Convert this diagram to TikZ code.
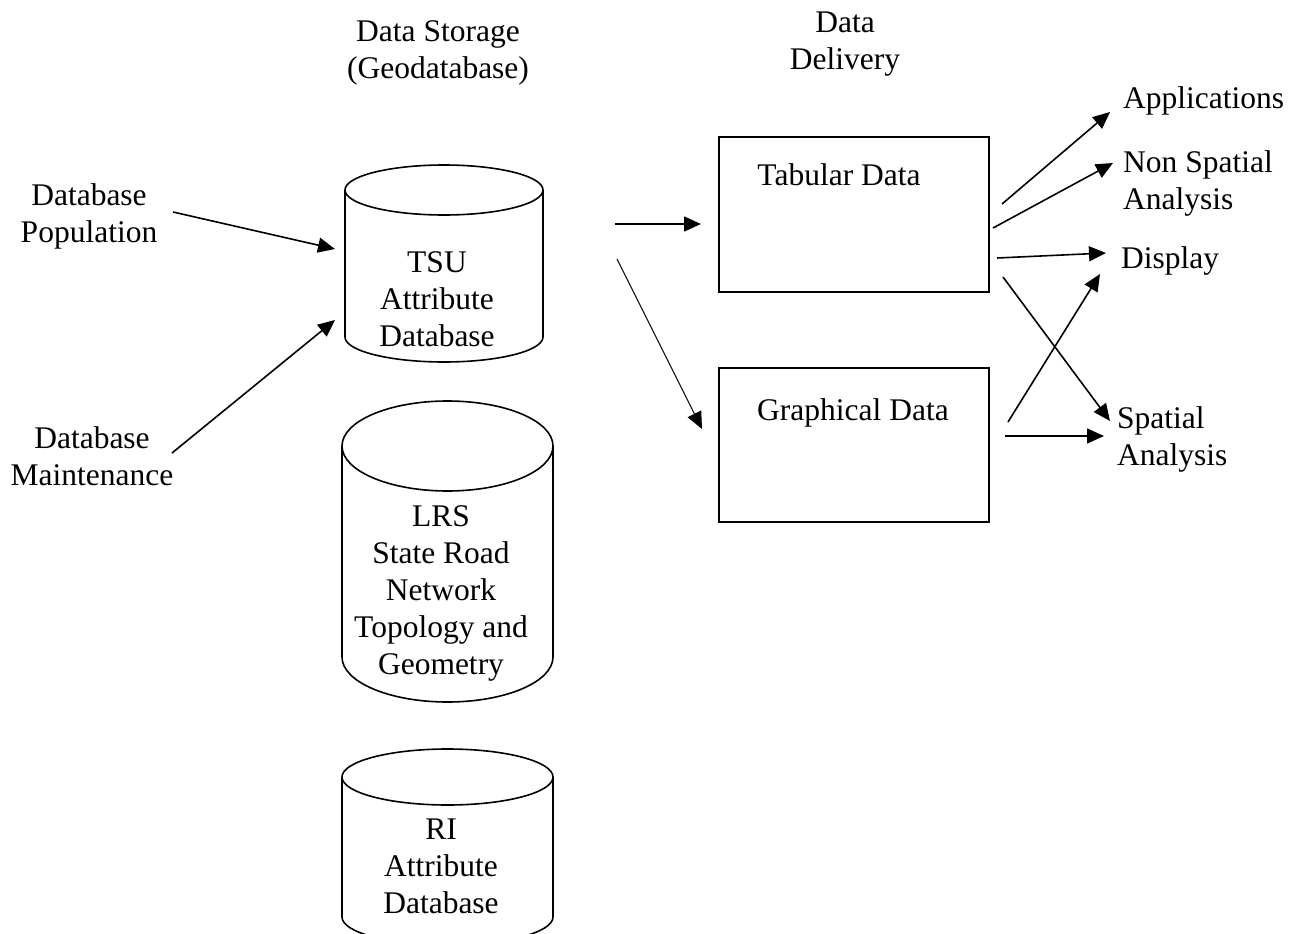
\documentclass[tikz,border=0pt]{standalone}
\usepackage{fontspec}
\setmainfont{Liberation Serif}
\usetikzlibrary{arrows.meta}
% stacked lines, first baseline on the node's base
\newcommand{\clines}[1]{\begin{tabular}[t]{@{}c@{}}#1\end{tabular}}
\newcommand{\llines}[1]{\begin{tabular}[t]{@{}l@{}}#1\end{tabular}}
\begin{document}
\begin{tikzpicture}[x=1pt,y=-1pt,
  txt/.style={inner sep=0pt, anchor=base, font=\fontsize{31.5}{37}\selectfont},
  ltxt/.style={txt, anchor=base west},
  shapeline/.style={line width=1.6pt},
  arr/.style={line width=1.6pt, -{Triangle[length=17pt,width=15pt]}},
  thinarr/.style={arr, line width=1.1pt},
  box/.style={draw, shapeline, minimum width=270pt, minimum height=155pt, inner sep=0pt}]
\clip (0,0) rectangle (1294,934);

% column headings
\node[txt] (hdrS) at (438,42) {\clines{Data Storage\\(Geodatabase)}};
\node[txt] (hdrD) at (845,33) {\clines{Data\\Delivery}};

% database cylinders
\draw[shapeline] (444,190) ellipse [x radius=99pt, y radius=25pt];
\draw[shapeline] (345,190) -- (345,337) arc [start angle=180, end angle=360, x radius=99pt, y radius=25pt] -- (543,190);
\draw[shapeline] (447.5,446) ellipse [x radius=105.5pt, y radius=45pt];
\draw[shapeline] (342,446) -- (342,657) arc [start angle=180, end angle=360, x radius=105.5pt, y radius=45pt] -- (553,446);
\draw[shapeline] (447.5,777) ellipse [x radius=105.5pt, y radius=28pt];
\draw[shapeline] (342,777) -- (342,917) arc [start angle=180, end angle=360, x radius=105.5pt, y radius=28pt] -- (553,777);

\node[txt] (tsu) at (437,272) {\clines{TSU\\Attribute\\Database}};
\node[txt] (lrs) at (441,526) {\clines{LRS\\State Road\\Network\\Topology and\\Geometry}};
\node[txt] (ri) at (441,839) {\clines{RI\\Attribute\\Database}};

% inputs
\node[txt] (pop) at (89,205) {\clines{Database\\Population}};
\node[txt] (mnt) at (92,448) {\clines{Database\\Maintenance}};

% delivery boxes
\node[box] (tab) at (854,214.5) {};
\node[box, minimum height=154pt] (gra) at (854,445) {};
\node[txt] (tabt) at (839,185) {Tabular Data};
\node[txt] (grat) at (853,420) {Graphical Data};

% outputs
\node[ltxt] (app) at (1123,108) {Applications};
\node[ltxt] (nsa) at (1123,172) {\llines{Non Spatial\\Analysis}};
\node[ltxt] (disp) at (1121,268) {Display};
\node[ltxt] (spa) at (1117,428) {\llines{Spatial\\Analysis}};

% connector ends
\coordinate (popOut) at (173,212);
\coordinate (tsuInA) at (335,249);
\coordinate (mntOut) at (172,453);
\coordinate (tsuInB) at (335,320);
\coordinate (stoOutA) at (615,224);
\coordinate (tabIn) at (701,224);
\coordinate (stoOutB) at (617,259);
\coordinate (graIn) at (702,429);
\coordinate (tabOutA) at (1002,204);
\coordinate (appIn) at (1110,112);
\coordinate (tabOutB) at (993,228);
\coordinate (nsaIn) at (1113,163);
\coordinate (tabOutC) at (997,258);
\coordinate (dispInA) at (1106,253);
\coordinate (tabOutD) at (1003,277);
\coordinate (spaInA) at (1110,421);
\coordinate (graOutA) at (1008,422);
\coordinate (dispInB) at (1100,274);
\coordinate (graOutB) at (1005,436);
\coordinate (spaInB) at (1104,436);

\draw[arr] (popOut) -- (tsuInA);
\draw[arr] (mntOut) -- (tsuInB);
\draw[arr] (stoOutA) -- (tabIn);
\draw[thinarr] (stoOutB) -- (graIn);
\draw[arr] (tabOutA) -- (appIn);
\draw[arr] (tabOutB) -- (nsaIn);
\draw[arr] (tabOutC) -- (dispInA);
\draw[arr] (tabOutD) -- (spaInA);
\draw[arr] (graOutA) -- (dispInB);
\draw[arr] (graOutB) -- (spaInB);
\end{tikzpicture}
\end{document}
